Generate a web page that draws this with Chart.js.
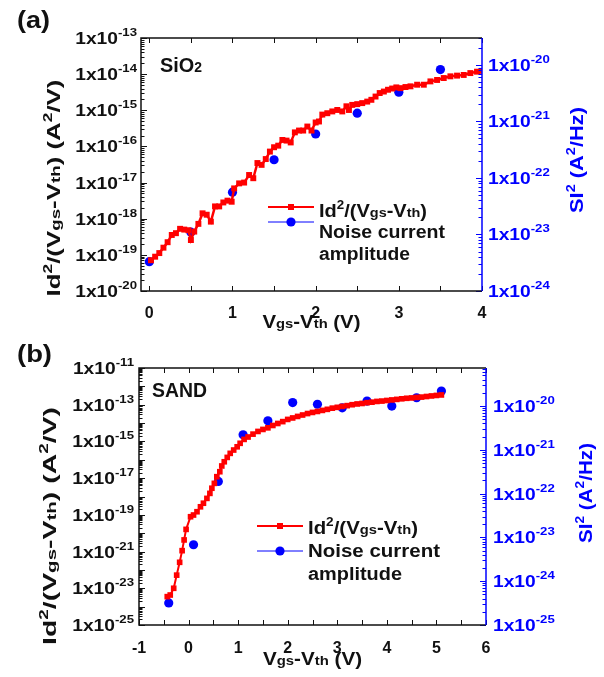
<!DOCTYPE html>
<html lang="en">
<head>
<meta charset="UTF-8" />
<title>Id2/(Vgs-Vth) and noise current amplitude</title>
<script src="https://cdn.jsdelivr.net/npm/chart.js"></script>
<style>
  body { margin: 0; background: #fff; }
  #wrap { position: relative; width: 604px; height: 677px; }
  canvas { position: absolute; left: 0; }
  #chartA { top: 0; }
  #chartB { top: 335px; }
</style>
</head>
<body>
<div id="wrap">
  <canvas id="chartA" width="604" height="335"></canvas>
  <canvas id="chartB" width="604" height="342"></canvas>
</div>
<script>
// ---------- panel (a): SiO2 ----------
const vgsA = [0.02, 0.07, 0.12, 0.17, 0.22, 0.27, 0.32, 0.37, 0.42, 0.47,
  0.50, 0.54, 0.59, 0.64, 0.69, 0.74, 0.79, 0.84, 0.89, 0.94, 0.99,
  1.02, 1.08, 1.14, 1.20, 1.25, 1.30, 1.35, 1.40, 1.45, 1.50, 1.55, 1.60, 1.65, 1.70, 1.75, 1.80, 1.85, 1.90, 1.95,
  2.00, 2.04, 2.08, 2.14, 2.20, 2.26, 2.32, 2.37, 2.40, 2.44, 2.50, 2.56, 2.62, 2.67, 2.72, 2.77, 2.82, 2.87, 2.92, 2.97,
  3.02, 3.08, 3.14, 3.22, 3.30, 3.38, 3.46, 3.54, 3.62, 3.70, 3.78, 3.86, 3.94, 4.00];
const idA = [7.1e-20, 8.9e-20, 1.12e-19, 1.58e-19, 2.24e-19, 3.55e-19, 3.98e-19, 5.25e-19, 5.0e-19, 4.8e-19,
  2.57e-19, 4.4e-19, 7.2e-19, 1.41e-18, 1.29e-18, 8.3e-19, 2.19e-18, 2.19e-18, 2.82e-18, 3.16e-18, 2.95e-18,
  6.9e-18, 9.5e-18, 1.0e-17, 1.62e-17, 1.32e-17, 3.47e-17, 3.09e-17, 4.47e-17, 7.2e-17, 9.5e-17, 1.05e-16, 1.51e-16, 1.45e-16, 1.29e-16, 2.45e-16, 2.75e-16, 2.75e-16, 3.55e-16, 2.75e-16,
  4.6e-16, 4.9e-16, 7.6e-16, 8.3e-16, 9.3e-16, 1.02e-15, 9.3e-16, 1.29e-15, 1.02e-15, 1.41e-15, 1.48e-15, 1.58e-15, 1.74e-15, 1.95e-15, 2.4e-15, 3.0e-15, 3.3e-15, 3.7e-15, 4.0e-15, 4.3e-15,
  4.1e-15, 4.4e-15, 4.6e-15, 5.1e-15, 5.1e-15, 6.3e-15, 6.9e-15, 7.8e-15, 8.7e-15, 9.1e-15, 9.5e-15, 1.07e-14, 1.17e-14, 1.23e-14];
const vgsNoiseA = [0, 0.5, 1, 1.5, 2, 2.5, 3, 3.5];
const siA = [3.3e-24, 1.1e-23, 5.6e-23, 2.1e-22, 6.0e-22, 1.4e-21, 3.3e-21, 8.3e-21];
const xTicksA = [0, 0.5, 1, 1.5, 2, 2.5, 3, 3.5, 4];
const yExpA = [-20, -19, -18, -17, -16, -15, -14, -13];
const y2ExpA = [-24, -23, -22, -21, -20];

// ---------- panel (b): SAND ----------
const vgsB = [-0.43, -0.37, -0.30, -0.24, -0.18, -0.13, -0.09, -0.05,
  0.04, 0.10, 0.17, 0.24, 0.30, 0.37, 0.43, 0.47, 0.52, 0.57, 0.63, 0.67, 0.72, 0.78, 0.84, 0.91, 0.98, 1.04, 1.12,
  1.20, 1.30, 1.40, 1.50, 1.60, 1.70, 1.80, 1.90, 2.00, 2.10, 2.20, 2.30, 2.40, 2.50, 2.60, 2.70, 2.80, 2.90,
  3.00, 3.10, 3.20, 3.30, 3.40, 3.50, 3.60, 3.70, 3.80, 3.90, 4.00, 4.10, 4.20, 4.30, 4.40, 4.50, 4.60, 4.70, 4.80, 4.90, 5.00, 5.10];
const idB = [3.5e-24, 4.3e-24, 1.0e-23, 5.2e-23, 2.6e-22, 1.12e-21, 4.3e-21, 1.62e-20,
  7.9e-20, 9.8e-20, 1.48e-19, 2.75e-19, 4.3e-19, 7.9e-19, 1.48e-18, 2.82e-18, 5.2e-18, 1.2e-17, 2.24e-17, 4.6e-17, 7.8e-17, 1.35e-16, 2.24e-16, 3.4e-16, 5.1e-16, 7.9e-16, 1.29e-15,
  1.74e-15, 2.5e-15, 3.5e-15, 4.5e-15, 5.5e-15, 7.4e-15, 9.5e-15, 1.2e-14, 1.58e-14, 1.9e-14, 2.3e-14, 2.75e-14, 3.3e-14, 3.8e-14, 4.3e-14, 4.9e-14, 5.6e-14, 6.5e-14,
  7.2e-14, 8.1e-14, 8.9e-14, 1.0e-13, 1.1e-13, 1.17e-13, 1.29e-13, 1.38e-13, 1.51e-13, 1.58e-13, 1.7e-13, 1.82e-13, 1.95e-13, 2.1e-13, 2.24e-13, 2.34e-13, 2.5e-13, 2.6e-13, 2.8e-13, 3.0e-13, 3.2e-13, 3.4e-13];
const vgsNoiseB = [-0.4, 0.1, 0.6, 1.1, 1.6, 2.1, 2.6, 3.1, 3.6, 4.1, 4.6, 5.1];
const siB = [3.2e-25, 6.8e-24, 1.9e-22, 2.2e-21, 4.6e-21, 1.2e-20, 1.1e-20, 9.1e-21, 1.3e-20, 1.0e-20, 1.55e-20, 2.2e-20];
const xTicksB = [-1, -0.5, 0, 0.5, 1, 1.5, 2, 2.5, 3, 3.5, 4, 4.5, 5, 5.5, 6];
const yExpB = [-25, -23, -21, -19, -17, -15, -13, -11];
const y2ExpB = [-25, -24, -23, -22, -21, -20];

const seriesNames = ["Id²/(Vgs-Vth)", "Noise current amplitude"];

// ---------- drawing helpers ----------
const FAMILY = '"Liberation Sans", Arial, Helvetica, sans-serif';
const RED = "#ff0000";
const BLUE = "#0000ff";
const INK = "#111111";

function font(size) {
  return "bold " + size + "px " + FAMILY;
}

// parts: [text, size, raise]
function richWidth(ctx, parts) {
  let w = 0;
  parts.forEach(([t, s]) => {
    ctx.font = font(s);
    w += ctx.measureText(t).width;
  });
  return w;
}

function drawRich(ctx, parts, x, y, opt) {
  const nat = richWidth(ctx, parts);
  const sx = opt.width ? opt.width / nat : opt.sx || 1;
  const w = nat * sx;
  ctx.save();
  ctx.translate(x, y);
  if (opt.rotate) ctx.rotate(opt.rotate);
  let cx = opt.align === "center" ? -w / 2 : opt.align === "right" ? -w : 0;
  ctx.scale(sx, 1);
  cx /= sx;
  ctx.fillStyle = opt.color || INK;
  ctx.textBaseline = "alphabetic";
  ctx.textAlign = "left";
  parts.forEach(([t, s, r]) => {
    ctx.font = font(s);
    ctx.fillText(t, cx, -(r || 0));
    cx += ctx.measureText(t).width;
  });
  ctx.restore();
}

function idParts(big, small, sup) {
  return [["I", big], ["d", big], ["2", sup, big * 0.45], ["/(V", big], ["gs", small],
    ["-V", big], ["th", small], [")", big]];
}

// log ticks: decades (major) plus 2..9 in between
function logTicks(minExp, maxVal) {
  const out = [];
  for (let e = minExp; 10 ** e <= maxVal; e++) {
    for (let m = 1; m <= 9; m++) {
      const v = m * 10 ** e;
      if (v > maxVal * 1.0001) break;
      out.push({ value: v, major: m === 1 });
    }
  }
  return out;
}

function decor(p) {
  return {
    id: "decor",
    afterDraw(chart) {
      const ctx = chart.ctx;
      const a = chart.chartArea;
      const { x, y, y2 } = chart.scales;
      ctx.save();
      ctx.lineWidth = 1;

      // tick marks pointing into the plot
      ctx.strokeStyle = INK;
      x.ticks.forEach((t) => {
        const px = Math.round(x.getPixelForValue(t.value)) + 0.5;
        ctx.beginPath();
        ctx.moveTo(px, a.bottom); ctx.lineTo(px, a.bottom - 5);
        ctx.moveTo(px, a.top); ctx.lineTo(px, a.top + 5);
        ctx.stroke();
      });
      y.ticks.forEach((t) => {
        const py = Math.round(y.getPixelForValue(t.value)) + 0.5;
        ctx.beginPath();
        ctx.moveTo(a.left, py); ctx.lineTo(a.left + (t.major ? 6 : 3.5), py);
        ctx.stroke();
      });
      ctx.strokeStyle = BLUE;
      y2.ticks.forEach((t) => {
        const py = Math.round(y2.getPixelForValue(t.value)) + 0.5;
        ctx.beginPath();
        ctx.moveTo(a.right, py); ctx.lineTo(a.right - (t.major ? 6 : 3.5), py);
        ctx.stroke();
      });

      // frame
      ctx.lineWidth = 1.5;
      ctx.strokeStyle = INK;
      ctx.beginPath();
      ctx.moveTo(a.right, a.top); ctx.lineTo(a.left, a.top);
      ctx.lineTo(a.left, a.bottom); ctx.lineTo(a.right, a.bottom);
      ctx.stroke();
      ctx.strokeStyle = BLUE;
      ctx.beginPath();
      ctx.moveTo(a.right, a.top); ctx.lineTo(a.right, a.bottom);
      ctx.stroke();

      // decade labels 1x10^n
      p.yExp.forEach((e) => {
        const py = y.getPixelForValue(10 ** e);
        drawRich(ctx, [["1x10", 16], [String(e), 11, 8]], p.yLabelRight, py + 6, { align: "right", sx: 1.2 });
      });
      p.y2Exp.forEach((e) => {
        const py = y2.getPixelForValue(10 ** e);
        drawRich(ctx, [["1x10", 16], [String(e), 11, 8]], p.y2LabelLeft, py + 6, { sx: 1.2, color: BLUE });
      });

      // axis titles
      drawRich(ctx, [["V", 18], ["gs", 13], ["-V", 18], ["th", 13], [" (V)", 18]],
        p.xTitle[0], p.xTitle[1], { align: "center", width: p.xTitle[2] });
      drawRich(ctx, idParts(18, 13, 12).concat([[" (A", 18], ["2", 12, 8], ["/V)", 18]]),
        p.yTitle[0], p.yTitle[1], { align: "center", width: p.yTitle[2], rotate: -Math.PI / 2 });
      drawRich(ctx, [["SI", 18], ["2", 12, 8], [" (A", 18], ["2", 12, 8], ["/Hz)", 18]],
        p.y2Title[0], p.y2Title[1], { align: "center", width: p.y2Title[2], rotate: -Math.PI / 2, color: BLUE });

      // panel letter and material name
      drawRich(ctx, [[p.letter, 24]], 17, p.letterY, { width: p.letterW });
      drawRich(ctx, p.name, p.namePos[0], p.namePos[1], { width: p.namePos[2] });

      // legend
      const L = p.legend;
      const cxS = (L.x0 + L.x1) / 2;
      ctx.strokeStyle = RED;
      ctx.lineWidth = 2;
      ctx.beginPath(); ctx.moveTo(L.x0, L.redY); ctx.lineTo(L.x1, L.redY); ctx.stroke();
      ctx.fillStyle = RED;
      ctx.fillRect(cxS - 3, L.redY - 3, 6, 6);
      ctx.strokeStyle = BLUE;
      ctx.lineWidth = 1;
      ctx.beginPath(); ctx.moveTo(L.x0, L.blueY); ctx.lineTo(L.x1, L.blueY); ctx.stroke();
      ctx.fillStyle = BLUE;
      ctx.beginPath(); ctx.arc(cxS, L.blueY, 4.6, 0, Math.PI * 2); ctx.fill();
      drawRich(ctx, idParts(18, 13, 12), L.tx, L.rows[0][0], { width: L.rows[0][1] });
      const words = seriesNames[1].split(" ");
      drawRich(ctx, [[words[0] + " " + words[1], 18]], L.tx, L.rows[1][0], { width: L.rows[1][1] });
      drawRich(ctx, [[words[2], 18]], L.tx, L.rows[2][0], { width: L.rows[2][1] });

      ctx.restore();
    },
  };
}

function makePanel(id, d, p) {
  const tickFont = { family: FAMILY, size: 16, weight: "bold" };
  return new Chart(document.getElementById(id), {
    type: "scatter",
    data: {
      datasets: [
        {
          label: seriesNames[0],
          data: d.vgs.map((v, i) => ({ x: v, y: d.id[i] })),
          yAxisID: "y",
          showLine: true,
          borderColor: RED,
          backgroundColor: RED,
          borderWidth: p.lineW,
          pointStyle: "rect",
          pointRadius: p.sq,
          pointBorderWidth: 0,
        },
        {
          label: seriesNames[1],
          data: d.vn.map((v, i) => ({ x: v, y: d.si[i] })),
          yAxisID: "y2",
          showLine: false,
          borderColor: BLUE,
          backgroundColor: BLUE,
          pointRadius: 4.6,
          pointBorderWidth: 0,
          clip: false,
        },
      ],
    },
    options: {
      responsive: false,
      animation: false,
      devicePixelRatio: 1,
      layout: { padding: { top: p.top, left: 0, right: 0, bottom: 0 } },
      plugins: { legend: { display: false }, tooltip: { enabled: false } },
      scales: {
        x: {
          type: "linear",
          min: p.xMin,
          max: p.xMax,
          afterBuildTicks: (s) => { s.ticks = d.xTicks.map((v) => ({ value: v })); },
          afterFit: (s) => { s.height = p.bottomH; },
          grid: { display: false },
          border: { display: false },
          ticks: {
            autoSkip: false,
            maxRotation: 0,
            padding: p.xPad,
            color: INK,
            font: tickFont,
            callback: (v) => (Number.isInteger(v) ? String(v) : ""),
          },
        },
        y: {
          type: "logarithmic",
          position: "left",
          min: p.yMin,
          max: p.yMax,
          afterBuildTicks: (s) => { s.ticks = logTicks(Math.log10(p.yMin), p.yMax); },
          afterFit: (s) => { s.width = p.leftW; },
          grid: { display: false },
          border: { display: false },
          ticks: { display: false },
        },
        y2: {
          type: "logarithmic",
          position: "right",
          min: p.y2Min,
          max: p.y2Max,
          afterBuildTicks: (s) => { s.ticks = logTicks(Math.log10(p.y2Min), p.y2Max); },
          afterFit: (s) => { s.width = p.rightW; },
          grid: { display: false },
          border: { display: false },
          ticks: { display: false },
        },
      },
    },
    plugins: [decor(p)],
  });
}

window.onload = function () {
  makePanel(
    "chartA",
    { vgs: vgsA, id: idA, vn: vgsNoiseA, si: siA, xTicks: xTicksA },
    {
      top: 38, leftW: 141, rightW: 122, bottomH: 44, xPad: 5,
      xMin: -0.1, xMax: 4, yMin: 1e-20, yMax: 1e-13, y2Min: 1e-24, y2Max: 3e-20,
      lineW: 2.5, sq: 4.2,
      yExp: yExpA, y2Exp: y2ExpA, yLabelRight: 137, y2LabelLeft: 488,
      xTitle: [311.5, 328, 98], yTitle: [60, 188, 217], y2Title: [583, 160, 106],
      letter: "(a)", letterY: 28, letterW: 33,
      name: [["SiO", 20], ["2", 14]], namePos: [160, 72, 42],
      legend: { x0: 268, x1: 314, redY: 207, blueY: 222, tx: 319,
        rows: [[217, 108], [238, 126], [260, 91]] },
    }
  );
  makePanel(
    "chartB",
    { vgs: vgsB, id: idB, vn: vgsNoiseB, si: siB, xTicks: xTicksB },
    {
      top: 33, leftW: 139, rightW: 118, bottomH: 52, xPad: 6,
      xMin: -1, xMax: 6, yMin: 1e-25, yMax: 1e-11, y2Min: 1e-25, y2Max: 7.4e-20,
      lineW: 2, sq: 4,
      yExp: yExpB, y2Exp: y2ExpB, yLabelRight: 134, y2LabelLeft: 493,
      xTitle: [312.5, 330, 99], yTitle: [56, 191, 238], y2Title: [592, 158, 100],
      letter: "(b)", letterY: 27, letterW: 35,
      name: [["SAND", 19.5]], namePos: [152, 62, 55],
      legend: { x0: 257, x1: 303, redY: 191, blueY: 216, tx: 308,
        rows: [[199, 110], [222, 132], [245, 94]] },
    }
  );
};
</script>
</body>
</html>
